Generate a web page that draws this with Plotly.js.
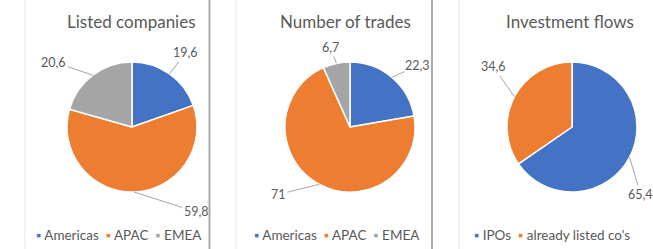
<!DOCTYPE html>
<html><head><meta charset="utf-8">
<script src="https://cdn.plot.ly/plotly-3.0.1.min.js"></script>
<style>html,body{margin:0;padding:0;background:#fff;}</style>
</head><body>
<div id="chart" style="width:653px;height:249px;"></div>
<script>
// ---- data ----
const regionLabels = ["Americas", "APAC", "EMEA"];
const listedCompanies = [19.6, 59.8, 20.6];
const numberOfTrades = [22.3, 71, 6.7];
const flowLabels = ["IPOs", "already listed co's"];
const investmentFlows = [65.4, 34.6];
const titles = ["Listed companies", "Number of trades", "Investment flows"];

const regionColors = ["#4472C4", "#ED7D31", "#A5A5A5"];
const flowColors = ["#4472C4", "#ED7D31"];

const W = 653, H = 249;
const FONT = "Lato, Carlito, 'Open Sans', sans-serif";
const TXT = "#595959";

// panel layout (pixels)
const panels = [
  {cx: 132, cy: 127, r: 65, values: listedCompanies, labels: regionLabels, colors: regionColors,
   titleX: 131, legendX: 119,
   offsets: [[16, -21], [62, 20], [-39, -13]]},
  {cx: 350, cy: 127, r: 65, values: numberOfTrades, labels: regionLabels, colors: regionColors,
   titleX: 345, legendX: 337,
   offsets: [[26, -12], [-41, 10], [-6, -16]]},
  {cx: 572, cy: 127, r: 65, values: investmentFlows, labels: flowLabels, colors: flowColors,
   titleX: 570, legendX: 552,
   offsets: [[11, 37], [-21, -30]]}
];

const px = x => x / W;
const py = y => 1 - y / H;

const fmt = v => String(v).replace('.', ',');

const traces = [];
const annotations = [];
panels.forEach((p, k) => {
  traces.push({
    type: 'pie',
    values: p.values,
    labels: p.labels,
    sort: false,
    direction: 'clockwise',
    rotation: 0,
    textinfo: 'none',
    hoverinfo: 'label+value',
    showlegend: false,
    marker: {colors: p.colors, line: {color: '#ffffff', width: 1.5}},
    domain: {x: [px(p.cx - p.r), px(p.cx + p.r)], y: [py(p.cy + p.r), py(p.cy - p.r)]}
  });
  // title
  annotations.push({
    xref: 'paper', yref: 'paper', x: px(p.titleX), y: py(22),
    xanchor: 'center', yanchor: 'middle', showarrow: false,
    text: titles[k], font: {family: FONT, size: 17, color: TXT}
  });
  // data labels with leader lines
  const total = p.values.reduce((a, b) => a + b, 0);
  let cum = 0;
  p.values.forEach((v, i) => {
    const theta = 2 * Math.PI * (cum + v / 2) / total;
    cum += v;
    const tx = p.cx + p.r * Math.sin(theta);
    const ty = p.cy - p.r * Math.cos(theta);
    annotations.push({
      xref: 'paper', yref: 'paper', x: px(tx), y: py(ty),
      ax: p.offsets[i][0], ay: p.offsets[i][1],
      showarrow: true, arrowhead: 0, arrowwidth: 1, arrowcolor: '#A6A6A6',
      text: fmt(v), font: {family: FONT, size: 12.5, color: TXT}
    });
  });
  // legend
  const legText = p.labels.map((l, i) =>
    '<span style="color:' + p.colors[i] + ';font-size:13px">\u25AA</span>\u00A0' + l
  ).join('\u00A0\u00A0');
  annotations.push({
    xref: 'paper', yref: 'paper', x: px(p.legendX), y: py(235),
    xanchor: 'center', yanchor: 'middle', showarrow: false,
    text: legText, font: {family: FONT, size: 13.5, color: TXT}
  });
});

// panel borders
const borders = [
  {x: 25, c: '#E4E4E4', w: 1},
  {x: 209.5, c: '#ABABAB', w: 2},
  {x: 236, c: '#E4E4E4', w: 1},
  {x: 432, c: '#ABABAB', w: 2},
  {x: 459, c: '#E4E4E4', w: 1}
];
const shapes = borders.map(b => ({
  type: 'line', xref: 'paper', yref: 'paper',
  x0: px(b.x), x1: px(b.x), y0: 0, y1: 1,
  line: {color: b.c, width: b.w}, layer: 'above'
}));

Plotly.newPlot('chart', traces, {
  width: W, height: H,
  margin: {l: 0, r: 0, t: 0, b: 0},
  paper_bgcolor: '#fff',
  showlegend: false,
  annotations: annotations,
  shapes: shapes,
  font: {family: FONT, color: TXT}
}, {displayModeBar: false, staticPlot: true});
</script>
</body></html>
